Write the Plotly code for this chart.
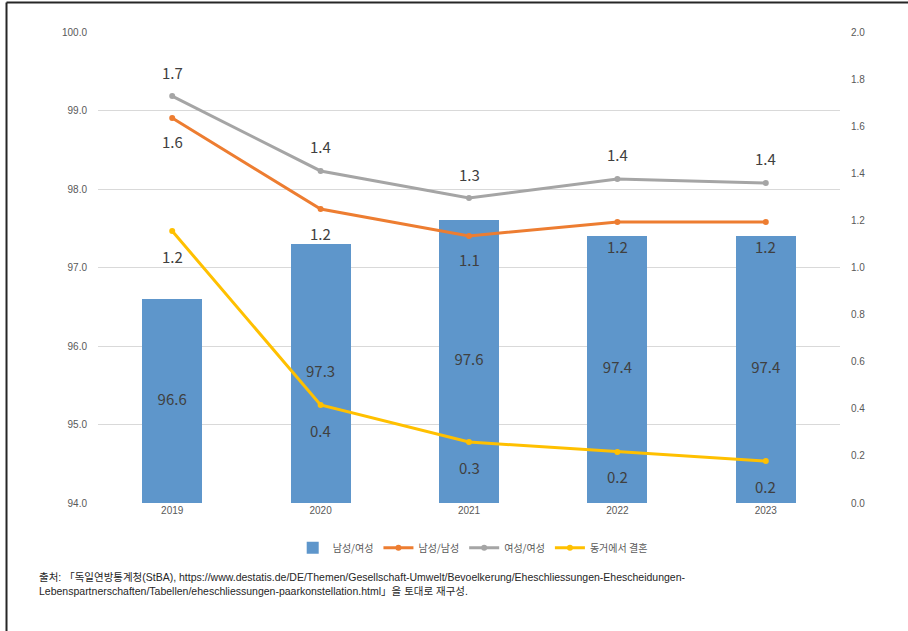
import plotly.graph_objects as go

# Data
years = ["2019", "2020", "2021", "2022", "2023"]
male_female = [96.6, 97.3, 97.6, 97.4, 97.4]          # 남성/여성 (left axis, %)
male_male = [1.635, 1.248, 1.134, 1.193, 1.193]       # 남성/남성 (right axis, %)
female_female = [1.728, 1.41, 1.295, 1.376, 1.359]    # 여성/여성 (right axis, %)
cohab_to_marriage = [1.155, 0.416, 0.259, 0.217, 0.178]  # 동거에서 결혼 (right axis, %)

left_ticks = [94.0, 95.0, 96.0, 97.0, 98.0, 99.0, 100.0]
right_ticks = [0.0, 0.2, 0.4, 0.6, 0.8, 1.0, 1.2, 1.4, 1.6, 1.8, 2.0]

source_text = ("출처: 「독일연방통계청(StBA), https://www.destatis.de/DE/Themen/Gesellschaft-Umwelt/Bevoelkerung/Eheschliessungen-Ehescheidungen-"
               "<br>Lebenspartnerschaften/Tabellen/eheschliessungen-paarkonstellation.html」을 토대로 재구성.")

FONT = "Noto Sans CJK KR"
SMALL = "Liberation Sans, Noto Sans CJK KR"
LABEL_COLOR = "#404040"
TICK_COLOR = "#595959"
LEFT_MIN, LEFT_MAX = 94, 100

fig = go.Figure()

fig.add_trace(go.Bar(
    x=years, y=male_female, name="남성/여성",
    marker=dict(color="#5E96CB", line=dict(width=0)),
    width=0.405, textposition="none",
    yaxis="y",
))

# bar value labels, centred in the visible part of each bar
fig.add_trace(go.Scatter(
    x=years, y=[(LEFT_MIN + v) / 2 for v in male_female],
    mode="text", text=[f"{v:.1f}" for v in male_female],
    textposition="middle center",
    textfont=dict(size=15, color=LABEL_COLOR, family=FONT),
    showlegend=False, hoverinfo="skip", yaxis="y",
))

line_specs = [
    ("남성/남성", male_male, "#ED7D31", -24),
    ("여성/여성", female_female, "#A5A5A5", 24),
    ("동거에서 결혼", cohab_to_marriage, "#FFC000", -25),
]
for name, vals, color, shift in line_specs:
    fig.add_trace(go.Scatter(
        x=years, y=vals, name=name, mode="lines+markers",
        line=dict(color=color, width=3),
        marker=dict(color=color, size=6),
        yaxis="y2",
    ))
    # value labels above / below each point (x given as category index)
    for i, v in enumerate(vals):
        fig.add_annotation(
            x=i, y=v, xref="x", yref="y2", yshift=shift,
            text=f"{v:.1f}", showarrow=False,
            font=dict(size=15, color=LABEL_COLOR, family=FONT),
        )

# frame lines around the page (left and top edges)
frame = dict(color="#262626", width=2)
fig.add_shape(type="line", xref="paper", yref="paper", x0=-0.1233, x1=-0.1233, y0=-0.30, y1=1.0626, line=frame)
fig.add_shape(type="line", xref="paper", yref="paper", x0=-0.1233, x1=1.10, y0=1.0626, y1=1.0626, line=frame)

fig.add_annotation(
    xref="paper", yref="paper", x=-0.0822, y=-0.140,
    xanchor="left", yanchor="top", align="left", showarrow=False,
    text=source_text,
    font=dict(size=10.5, color="#262626", family=SMALL),
)

fig.update_layout(
    width=908, height=631,
    margin=dict(l=98, r=68, t=32, b=128),
    paper_bgcolor="white", plot_bgcolor="white",
    font=dict(family=FONT, color=TICK_COLOR),
    showlegend=True,
    legend=dict(
        orientation="h", x=0.505, xanchor="center", y=-0.064, yanchor="top",
        font=dict(size=10, color=TICK_COLOR, family=FONT),
        itemwidth=30, traceorder="normal",
    ),
    xaxis=dict(
        type="category", range=[-0.5, 4.5], showgrid=False, zeroline=False,
        showline=False, ticks="",
        tickfont=dict(size=10, color=TICK_COLOR, family=SMALL),
    ),
    yaxis=dict(
        range=[LEFT_MIN, LEFT_MAX], tickvals=left_ticks,
        ticktext=[f"{v:.1f}" for v in left_ticks],
        showgrid=True, gridcolor="#D9D9D9", gridwidth=1,
        zeroline=False, showline=False,
        tickfont=dict(size=10, color=TICK_COLOR, family=SMALL), ticklabelstandoff=10,
    ),
    yaxis2=dict(
        range=[0, 2.0], tickvals=right_ticks,
        ticktext=[f"{v:.1f}" for v in right_ticks],
        overlaying="y", side="right", showgrid=False, zeroline=False,
        showline=False,
        tickfont=dict(size=10, color=TICK_COLOR, family=SMALL), ticklabelstandoff=10,
    ),
    bargap=0.0,
)

fig.write_html("out.html")
